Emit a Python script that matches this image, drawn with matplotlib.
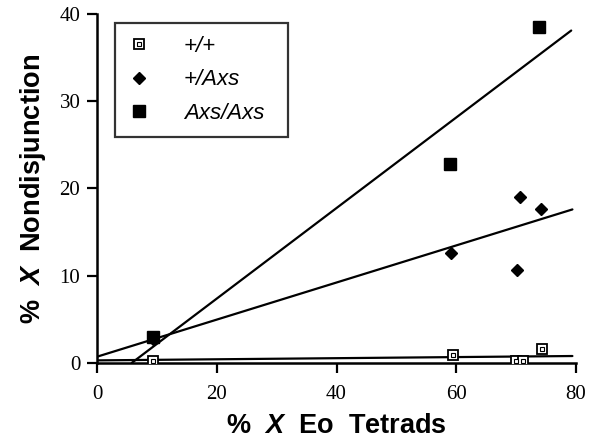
import matplotlib
matplotlib.use("Agg")
import matplotlib.pyplot as plt
import numpy as np
from matplotlib.legend_handler import HandlerTuple

plt.rcParams['mathtext.fontset'] = 'custom'
plt.rcParams['mathtext.bfit'] = 'Liberation Sans:italic:bold'
plt.rcParams['mathtext.rm'] = 'Liberation Sans:bold'

# Data
wt_x = [9.4, 59.4, 70.0, 71.1, 74.3]
wt_y = [0.26, 0.9, 0.2, 0.2, 1.57]
het_x = [9.3, 59.2, 70.2, 70.6, 74.1]
het_y = [2.8, 12.6, 10.7, 19.0, 17.7]
hom_x = [9.35, 59.0, 73.8]
hom_y = [3.0, 22.8, 38.5]

# Fitted lines (intercept, slope, x-start, x-end)
wt_fit = (0.3, 0.0063, 0.0, 79.4)
het_fit = (0.72, 0.2126, 0.0, 79.4)
hom_fit = (-3.0, 0.519, 5.8, 79.2)

labels = ['+/+', '+/Axs', 'Axs/Axs']
xticks = [0, 20, 40, 60, 80]
yticks = [0, 10, 20, 30, 40]

fig = plt.figure(figsize=(5.97, 4.4), dpi=100)
ax = fig.add_axes([97/597, 1-363/440, 479/597, 349/440])

for b, m, x0, x1 in (wt_fit, het_fit, hom_fit):
    xs = np.array([x0, x1])
    ax.plot(xs, b + m * xs, color='black', lw=1.6, solid_capstyle='round', zorder=2)

h_wt_outer, = ax.plot(wt_x, wt_y, 's', ms=7, mfc='white', mec='black', mew=1.3, ls='none', zorder=3)
h_wt_inner, = ax.plot(wt_x, wt_y, 's', ms=2.5, mfc='white', mec='black', mew=0.8, ls='none', zorder=4)
h_het, = ax.plot(het_x, het_y, 'D', ms=6.5, color='black', ls='none', zorder=3)
h_hom, = ax.plot(hom_x, hom_y, 's', ms=8, color='black', ls='none', zorder=3)

ax.set_xlim(0, 80)
ax.set_ylim(0, 40)
ax.set_xticks(xticks)
ax.set_yticks(yticks)
ax.spines['top'].set_visible(False)
ax.spines['right'].set_visible(False)
for s in ('left', 'bottom'):
    ax.spines[s].set_linewidth(1.8)
ax.tick_params(direction='out', length=7, width=1.6, labelsize=15)
ax.tick_params(axis='x', pad=9)
ax.tick_params(axis='y', pad=5)
for lab in ax.get_xticklabels() + ax.get_yticklabels():
    lab.set_fontfamily('Liberation Serif')

ax.set_xlabel(r'%  $\mathbfit{X}$  Eo  Tetrads', fontsize=19.5, fontweight='bold',
              fontfamily='Liberation Sans', labelpad=6)
ax.set_ylabel(r'%  $\mathbfit{X}$  Nondisjunction', fontsize=19.5, fontweight='bold',
              fontfamily='Liberation Sans', labelpad=8)

leg = ax.legend([(h_wt_outer, h_wt_inner), h_het, h_hom], labels,
                handler_map={tuple: HandlerTuple(ndivide=1)},
                loc='upper left', bbox_to_anchor=(0.0376, 0.975 - 0.325, 0.361, 0.325),
                mode='expand', borderaxespad=0, frameon=True, fancybox=False,
                edgecolor='black', handlelength=1.0, handletextpad=1.5,
                borderpad=0.6, labelspacing=0.55,
                prop={'family': 'Liberation Sans', 'style': 'italic', 'size': 16})
leg.get_frame().set_linewidth(1.6)

fig.savefig('out.png', dpi=100)
